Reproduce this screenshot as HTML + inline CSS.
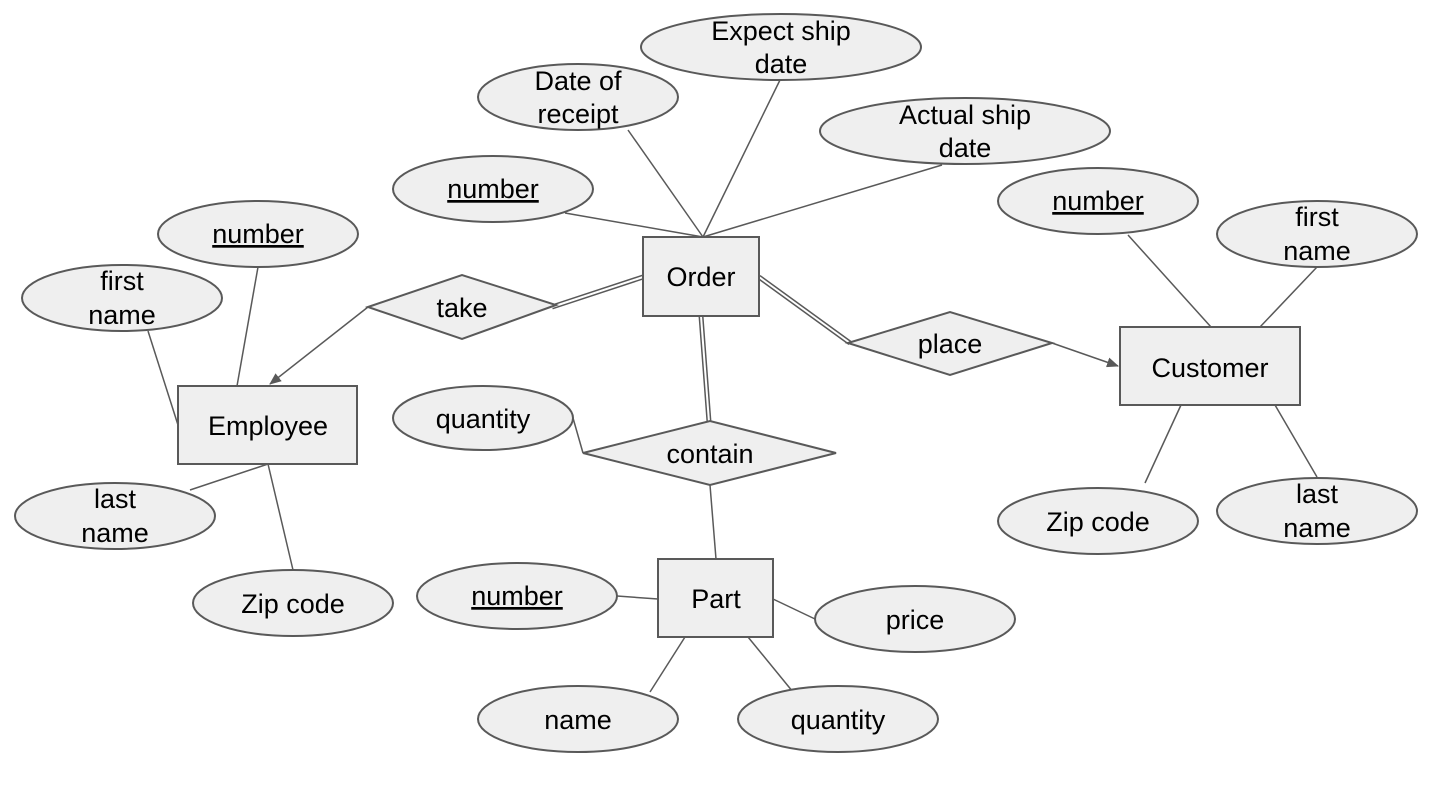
<!DOCTYPE html>
<html><head><meta charset="utf-8"><style>
html,body{margin:0;padding:0;background:#fff;}
svg{display:block;}
text{font-family:"Liberation Sans",Arial,sans-serif;font-size:27px;fill:#000;text-anchor:middle;}
.s{fill:#efefef;stroke:#595959;stroke-width:2;}
.l{stroke:#595959;stroke-width:1.5;fill:none;}
.d1{stroke:#595959;stroke-width:5;fill:none;}
.d2{stroke:#fff;stroke-width:2;fill:none;}
</style></head><body>
<svg width="1430" height="797" viewBox="0 0 1430 797" xmlns="http://www.w3.org/2000/svg">
<defs><marker id="a" markerWidth="12" markerHeight="10" refX="11" refY="5" orient="auto" markerUnits="userSpaceOnUse"><path d="M0,0 L12,5 L0,10 z" fill="#595959"/></marker></defs>
<g class="l">
<line x1="703" y1="237" x2="628" y2="130"/>
<line x1="703" y1="237" x2="780" y2="80"/>
<line x1="703" y1="237" x2="942" y2="165"/>
<line x1="703" y1="237" x2="565" y2="213"/>
<line x1="368" y1="307" x2="270" y2="384" marker-end="url(#a)"/>
<line x1="1052" y1="343" x2="1118" y2="366" marker-end="url(#a)"/>
<line x1="710" y1="485" x2="716" y2="559"/>
<polyline points="573,418 583,453"/>
<line x1="258" y1="267" x2="237" y2="386"/>
<line x1="148" y1="331" x2="178" y2="425"/>
<line x1="190" y1="490" x2="268" y2="464"/>
<line x1="293" y1="570" x2="268" y2="464"/>
<line x1="1128" y1="235" x2="1211" y2="327"/>
<line x1="1317" y1="267" x2="1260" y2="327"/>
<line x1="1145" y1="483" x2="1181" y2="405"/>
<line x1="1317" y1="477" x2="1275" y2="405"/>
<line x1="617" y1="596" x2="658" y2="599"/>
<line x1="815" y1="619" x2="773" y2="599"/>
<line x1="650" y1="692" x2="685" y2="637"/>
<line x1="793" y1="692" x2="748" y2="637"/>
</g>
<g>
<line class="d1" x1="643" y1="277" x2="552" y2="307"/><line class="d2" x1="643" y1="277" x2="552" y2="307"/>
<line class="d1" x1="759" y1="277" x2="850" y2="343"/><line class="d2" x1="759" y1="277" x2="850" y2="343"/>
<line class="d1" x1="701" y1="316" x2="709" y2="422"/><line class="d2" x1="701" y1="316" x2="709" y2="422"/>
</g>
<g class="s">
<ellipse cx="781" cy="47" rx="140" ry="33"/>
<ellipse cx="578" cy="97" rx="100" ry="33"/>
<ellipse cx="965" cy="131" rx="145" ry="33"/>
<ellipse cx="493" cy="189" rx="100" ry="33"/>
<ellipse cx="1098" cy="201" rx="100" ry="33"/>
<ellipse cx="1317" cy="234" rx="100" ry="33"/>
<ellipse cx="258" cy="234" rx="100" ry="33"/>
<ellipse cx="122" cy="298" rx="100" ry="33"/>
<ellipse cx="483" cy="418" rx="90" ry="32"/>
<ellipse cx="115" cy="516" rx="100" ry="33"/>
<ellipse cx="293" cy="603" rx="100" ry="33"/>
<ellipse cx="1098" cy="521" rx="100" ry="33"/>
<ellipse cx="1317" cy="511" rx="100" ry="33"/>
<ellipse cx="517" cy="596" rx="100" ry="33"/>
<ellipse cx="915" cy="619" rx="100" ry="33"/>
<ellipse cx="578" cy="719" rx="100" ry="33"/>
<ellipse cx="838" cy="719" rx="100" ry="33"/>
<rect x="643" y="237" width="116" height="79"/>
<rect x="178" y="386" width="179" height="78"/>
<rect x="1120" y="327" width="180" height="78"/>
<rect x="658" y="559" width="115" height="78"/>
<polygon points="368,307 462,275 556,305 462,339"/>
<polygon points="848,343 950,312 1052,343 950,375"/>
<polygon points="583,453 710,421 836,453 710,485"/>
</g>
<text x="781" y="40">Expect ship</text><text x="781" y="73">date</text>
<text x="578" y="90">Date of</text><text x="578" y="123">receipt</text>
<text x="965" y="124">Actual ship</text><text x="965" y="157">date</text>
<text x="493" y="198" text-decoration="underline">number</text>
<text x="1098" y="210" text-decoration="underline">number</text>
<text x="1317" y="226">first</text><text x="1317" y="260">name</text>
<text x="258" y="243" text-decoration="underline">number</text>
<text x="122" y="290">first</text><text x="122" y="324">name</text>
<text x="483" y="428">quantity</text>
<text x="115" y="508">last</text><text x="115" y="542">name</text>
<text x="293" y="613">Zip code</text>
<text x="1098" y="531">Zip code</text>
<text x="1317" y="503">last</text><text x="1317" y="537">name</text>
<text x="517" y="605" text-decoration="underline">number</text>
<text x="915" y="629">price</text>
<text x="578" y="729">name</text>
<text x="838" y="729">quantity</text>
<text x="701" y="286">Order</text>
<text x="268" y="435">Employee</text>
<text x="1210" y="377">Customer</text>
<text x="716" y="608">Part</text>
<text x="462" y="317">take</text>
<text x="950" y="353">place</text>
<text x="710" y="463">contain</text>
</svg>
</body></html>
